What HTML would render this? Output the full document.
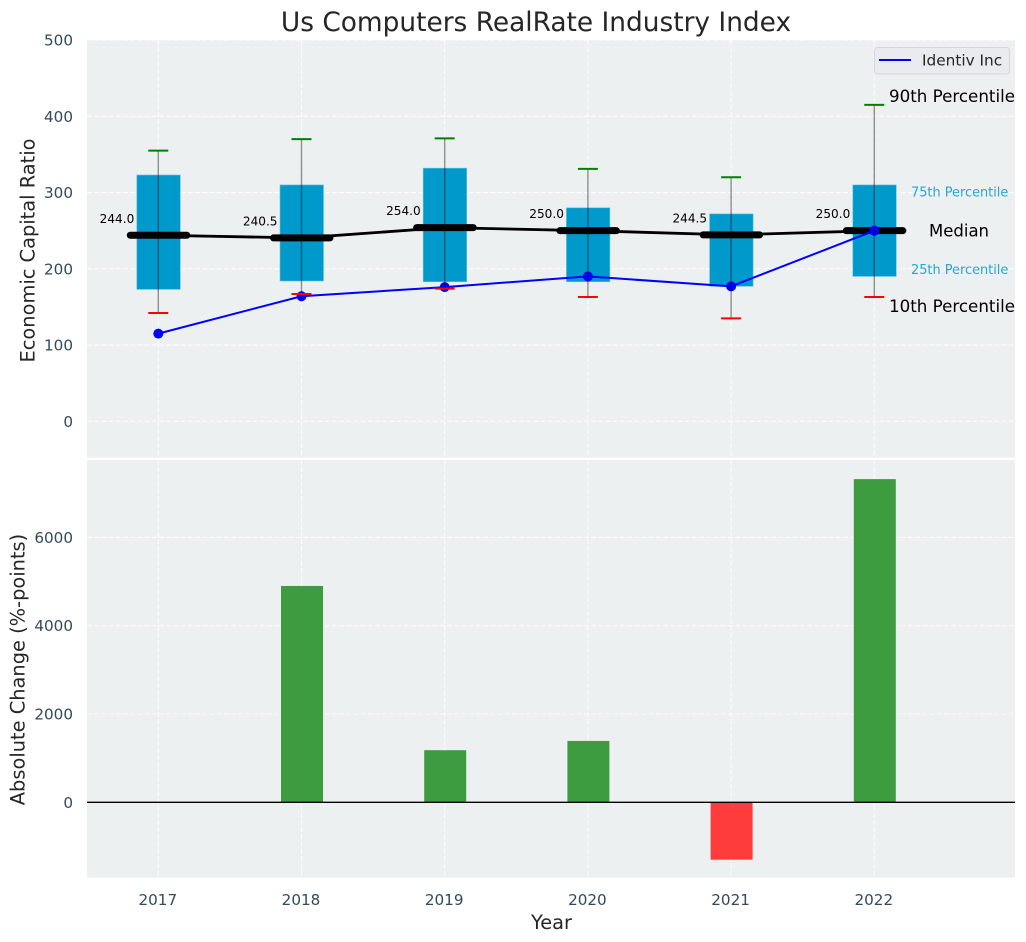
<!DOCTYPE html>
<html>
<head>
<meta charset="utf-8">
<title>Us Computers RealRate Industry Index</title>
<style>
html,body{margin:0;padding:0;background:#fff;width:1026px;height:942px;overflow:hidden}
svg{display:block;font-family:"DejaVu Sans","Liberation Sans",sans-serif}
</style>
</head>
<body>
<svg id="chart" width="1026" height="942" viewBox="0 0 1026 942" xmlns="http://www.w3.org/2000/svg">
<rect x="87" y="40" width="928" height="417.7" fill="#ecf0f1"/>
<rect x="87" y="460" width="928" height="417.7" fill="#ecf0f1"/>
<g id="layer"></g>
<text x="536" y="31" font-size="26.4" fill="#262626" text-anchor="middle">Us Computers RealRate Industry Index</text>
<text x="551.5" y="929" font-size="19.4" fill="#262626" text-anchor="middle">Year</text>
<text transform="translate(34.5,250.5) rotate(-90)" font-size="19.4" fill="#262626" text-anchor="middle">Economic Capital Ratio</text>
<text transform="translate(24.5,669.5) rotate(-90)" font-size="19.4" fill="#262626" text-anchor="middle">Absolute Change (%-points)</text>
<g>
<rect x="874.5" y="47.5" width="135" height="26.5" rx="3" fill="#e9ebf0" stroke="#d4d6da"/>
<line x1="879" y1="60" x2="911" y2="60" stroke="#0000ff" stroke-width="2"/>
<text x="922" y="65.5" font-size="15.3" fill="#262626">Identiv Inc</text>
</g>
</svg>
<script>
const years = ['2017', '2018', '2019', '2020', '2021', '2022'];
const p10 = [142, 167, 174, 163, 135, 163];
const q1 = [173, 184, 183, 183, 177, 190];
const medians = [244.0, 240.5, 254.0, 250.0, 244.5, 250.0];
const q3 = [323, 310, 332, 280, 272, 310];
const p90 = [355, 370, 371, 331, 320, 415];
const identiv = [115, 164, 176, 190, 177, 250];
const changes = [0, 4900, 1180, 1390, -1300, 7320];
const topTicks = [0, 100, 200, 300, 400, 500];
const bottomTicks = [0, 2000, 4000, 6000];

const xPos = i => 158.3 + i * 143.2;
const yTop = v => 421.3 - v * 0.7625;
const yBottom = v => 802.3 - v * 0.04415;

const layer = document.getElementById('layer');
const NS = 'http://www.w3.org/2000/svg';
function make(tag, attrs, text) {
  const el = document.createElementNS(NS, tag);
  for (const k in attrs) el.setAttribute(k, attrs[k]);
  if (text !== undefined) el.textContent = text;
  layer.appendChild(el);
  return el;
}
const gridStyle = {stroke: '#ffffff', 'stroke-width': 1.1, 'stroke-dasharray': '5 2.2', opacity: 0.85};

topTicks.forEach(t => {
  const grid = make('line', Object.assign({x1: 87, x2: 1015, y1: yTop(t), y2: yTop(t)}, gridStyle));
  
  
  const label = make('text', {x: 73, y: yTop(t) + 5.5, 'font-size': 15.2, fill: '#34495e', 'text-anchor': 'end'}, String(t));
  
  
});
bottomTicks.forEach(t => {
  const grid = make('line', Object.assign({x1: 87, x2: 1015, y1: yBottom(t), y2: yBottom(t)}, gridStyle));
  
  
  const label = make('text', {x: 73, y: yBottom(t) + 5.5, 'font-size': 15.2, fill: '#34495e', 'text-anchor': 'end'}, String(t));
  
  
});
years.forEach((y, i) => {
  const gridA = make('line', Object.assign({x1: xPos(i), x2: xPos(i), y1: 40, y2: 457.7}, gridStyle));
  
  
  const gridB = make('line', Object.assign({x1: xPos(i), x2: xPos(i), y1: 460, y2: 877.7}, gridStyle));
  
  
  const label = make('text', {x: xPos(i) - 0.5, y: 905, 'font-size': 15.2, fill: '#34495e', 'text-anchor': 'middle'}, y);
  
  
});

years.forEach((y, i) => {
  const box = make('rect', {x: xPos(i) - 21.5, width: 43.5, y: yTop(q3[i]), height: yTop(q1[i]) - yTop(q3[i]), fill: '#0099cc', stroke: '#66c2e0', 'stroke-width': 0.6});
  
  
});

const medianPath = make('polyline', {points: medians.map((v, i) => xPos(i) + ',' + yTop(v)).join(' '), fill: 'none', stroke: '#000000', 'stroke-width': 2.8});



years.forEach((y, i) => {
  const med = make('line', {x1: xPos(i) - 28, x2: xPos(i) + 28.5, y1: yTop(medians[i]), y2: yTop(medians[i]), stroke: '#000000', 'stroke-width': 7, 'stroke-linecap': 'round'});
  
  
  const val = make('text', {x: xPos(i) - 24, y: yTop(medians[i]) - 12.5, 'font-size': 12.1, fill: '#000000', 'text-anchor': 'end'}, medians[i].toFixed(1));
  
  
});

const linePath = make('polyline', {points: identiv.map((v, i) => xPos(i) + ',' + yTop(v)).join(' '), fill: 'none', stroke: '#0000ff', 'stroke-width': 2});


identiv.forEach((v, i) => {
  const dot = make('circle', {cx: xPos(i), cy: yTop(v), r: 5, fill: '#0000ff'});
  
  
});

years.forEach((y, i) => {
  const whisker = make('line', {x1: xPos(i), x2: xPos(i), y1: yTop(p90[i]), y2: yTop(p10[i]), stroke: '#000000', 'stroke-opacity': 0.42, 'stroke-width': 1.4});
  
  
  const hi = make('line', {x1: xPos(i) - 10, x2: xPos(i) + 10, y1: yTop(p90[i]), y2: yTop(p90[i]), stroke: '#008000', 'stroke-width': 2});
  
  
  const lo = make('line', {x1: xPos(i) - 10, x2: xPos(i) + 10, y1: yTop(p10[i]), y2: yTop(p10[i]), stroke: '#ff0000', 'stroke-width': 2});
  
  
});

changes.forEach((v, i) => {
  if (v === 0) return;
  const top = Math.min(yBottom(v), yBottom(0));
  const h = Math.abs(yBottom(v) - yBottom(0));
  const bar = make('rect', {x: xPos(i) - 20.5, width: 42, y: top, height: h, fill: v > 0 ? '#3c9c3f' : '#ff3c3c'});
  
  
});
const zero = make('line', {x1: 87, x2: 1015, y1: yBottom(0), y2: yBottom(0), stroke: '#000000', 'stroke-width': 1.3});



const last = years.length - 1;
const ann90 = make('text', {x: 889, y: yTop(p90[last]) - 3, 'font-size': 16.7, fill: '#000000'}, '90th Percentile');


const ann10 = make('text', {x: 889, y: yTop(p10[last]) + 15, 'font-size': 16.7, fill: '#000000'}, '10th Percentile');


const annMed = make('text', {x: 929, y: yTop(medians[last]) + 6, 'font-size': 16.5, fill: '#000000'}, 'Median');


const ann75 = make('text', {x: 911, y: yTop(q3[last]) + 11.5, 'font-size': 12.9, fill: '#0099cc', 'fill-opacity': 0.85}, '75th Percentile');


const ann25 = make('text', {x: 911, y: yTop(q1[last]) - 2.5, 'font-size': 12.9, fill: '#0099cc', 'fill-opacity': 0.85}, '25th Percentile');


</script>
</body>
</html>
